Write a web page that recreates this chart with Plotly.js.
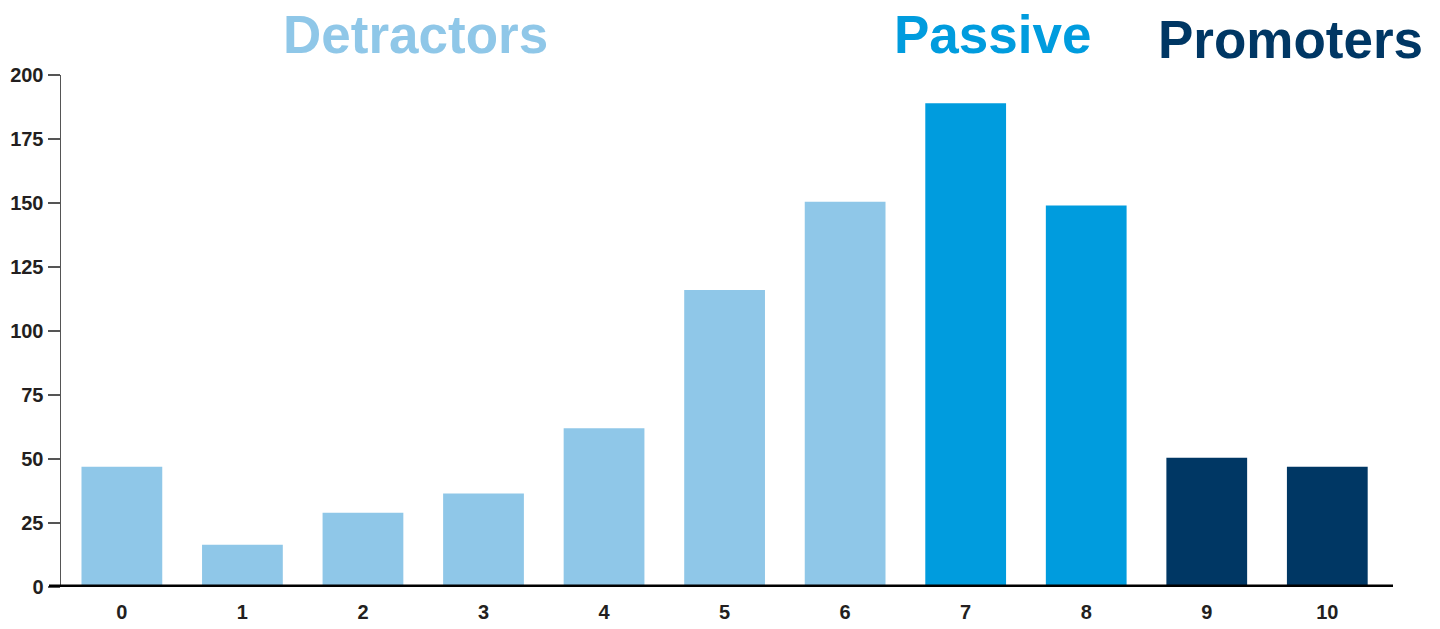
<!DOCTYPE html>
<html>
<head>
<meta charset="utf-8">
<script src="https://cdn.plot.ly/plotly-3.0.1.min.js"></script>
<style>html,body{margin:0;padding:0;background:#fff;}#chart{width:1440px;height:629px;}</style>
</head>
<body>
<div id="chart"></div>
<script>
const scores = ["0","1","2","3","4","5","6","7","8","9","10"];
const counts = [47, 16.5, 29, 36.5, 62, 116, 150.5, 189, 149, 50.5, 47];
const groups = ["Detractors","Detractors","Detractors","Detractors","Detractors","Detractors","Detractors","Passive","Passive","Promoters","Promoters"];
const groupNames = ["Detractors","Passive","Promoters"];
const groupColors = {"Detractors":"#8fc7e8","Passive":"#009cde","Promoters":"#003764"};
const yTicks = [0,25,50,75,100,125,150,175,200];

const trace = {
  type: "bar",
  x: scores,
  y: counts,
  marker: {color: groups.map(g => groupColors[g]), line: {width: 0}},
  hoverinfo: "x+y",
  showlegend: false
};

const titlePos = {"Detractors": [0.2658, 1.08], "Passive": [0.6993, 1.08], "Promoters": [0.9234, 1.07]};

const layout = {
  width: 1440, height: 629,
  margin: {l: 61, r: 47, t: 75, b: 42, pad: 0},
  paper_bgcolor: "#fff", plot_bgcolor: "#fff",
  bargap: 0.33,
  font: {family: "Liberation Sans, Arial, sans-serif", color: "#231f20"},
  xaxis: {
    type: "category",
    range: [-0.505, 10.545],
    showline: false, showgrid: false, zeroline: false,
    ticks: "", ticklabelstandoff: 11,
    tickfont: {size: 20, family: "Liberation Sans, Arial, sans-serif", weight: "bold", color: "#231f20"},
    fixedrange: true
  },
  yaxis: {
    range: [0, 200],
    tickvals: yTicks,
    ticktext: yTicks.map(String),
    showline: true, linecolor: "#555", linewidth: 1.5,
    ticks: "outside", ticklen: 12, tickwidth: 1.5, tickcolor: "#555",
    showgrid: false, zeroline: false,
    tickfont: {size: 20, family: "Liberation Sans, Arial, sans-serif", weight: "bold", color: "#231f20"},
    fixedrange: true
  },
  shapes: [{
    type: "line", xref: "paper", yref: "y",
    x0: -12/1332, x1: 1, y0: 0, y1: 0,
    line: {color: "#000", width: 5}
  }],
  annotations: groupNames.map(g => ({
    text: g, xref: "paper", yref: "paper",
    x: titlePos[g][0], y: titlePos[g][1],
    xanchor: "center", yanchor: "middle", showarrow: false,
    font: {size: 53, family: "Liberation Sans, Arial, sans-serif", weight: "bold", color: groupColors[g]}
  }))
};

Plotly.newPlot("chart", [trace], layout, {displayModeBar: false, staticPlot: true});
</script>
</body>
</html>
